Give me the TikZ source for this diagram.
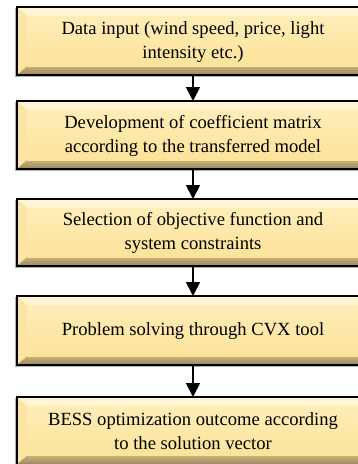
\documentclass[tikz,border=0pt]{standalone}
\usepackage{fontspec}
\setmainfont{Liberation Serif}
\usetikzlibrary{arrows.meta}
\definecolor{face}{HTML}{FCE39A}
\definecolor{facetop}{HTML}{FFEDB8}
\definecolor{bevtop}{HTML}{FFF5D2}
\definecolor{bevleft}{HTML}{FBE4A4}
\definecolor{bevright}{HTML}{EFD58E}
\definecolor{bevbot}{HTML}{9C8660}
\tikzset{
  flowtext/.style={font=\fontsize{18.6}{24.5}\selectfont, align=center, text=black},
  flowarrow/.style={line width=1.8pt, -{Triangle[length=14pt,width=14pt]}},
}
\newcommand{\bevelbox}[5]{% name, top, bottom, left, right
  \fill[bevtop] (#4,#2) -- (#5,#2) -- (#5-10,#2+9) -- (#4+10,#2+9) -- cycle;
  \fill[bevleft] (#4,#2) -- (#4+10,#2+9) -- (#4+10,#3-9) -- (#4,#3) -- cycle;
  \fill[bevright] (#5,#2) -- (#5-10,#2+9) -- (#5-10,#3-9) -- (#5,#3) -- cycle;
  \shade[top color=bevbot!45!bevright, bottom color=bevbot] (#4,#3) -- (#4+10,#3-9) -- (#5-10,#3-9) -- (#5,#3) -- cycle;
  \shade[top color=facetop, bottom color=face] (#4+10,#2+9) rectangle (#5-10,#3-9);
  \draw[line width=1.6pt, black] (#4,#2) rectangle (#5,#3);
  \draw[line width=0.8pt, gray!60] (#4-1.3,#2+1) -- (#4-1.3,#3+1.3) -- (#5,#3+1.3);
  \coordinate (#1-n) at (193,#2);
  \coordinate (#1-s) at (193,#3);
}
\begin{document}
\begin{tikzpicture}[x=1pt,y=-1pt]
\useasboundingbox (0,0) rectangle (358,464);
\begin{scope}
\clip (0,0) rectangle (358,464);
\bevelbox{b1}{7}{75}{17}{369}
\bevelbox{b2}{101}{169}{17}{369}
\bevelbox{b3}{199}{266}{17}{369}
\bevelbox{b4}{296}{365}{17}{369}
\bevelbox{b5}{397}{464.5}{17}{369}
\end{scope}
\node[flowtext] (t1) at (193,42) {Data input (wind speed, price, light\\intensity etc.)};
\node[flowtext] (t2) at (193,136) {Development of coefficient matrix\\according to the transferred model};
\node[flowtext] (t3) at (193,233) {Selection of objective function and\\system constraints};
\node[flowtext] (t4) at (193,331) {Problem solving through CVX tool};
\node[flowtext] (t5) at (193,431) {BESS optimization outcome according\\to the solution vector};
\draw[flowarrow] (b1-s) -- (b2-n);
\draw[flowarrow] (b2-s) -- (b3-n);
\draw[flowarrow] (b3-s) -- (b4-n);
\draw[flowarrow] (b4-s) -- (b5-n);
\end{tikzpicture}
\end{document}
